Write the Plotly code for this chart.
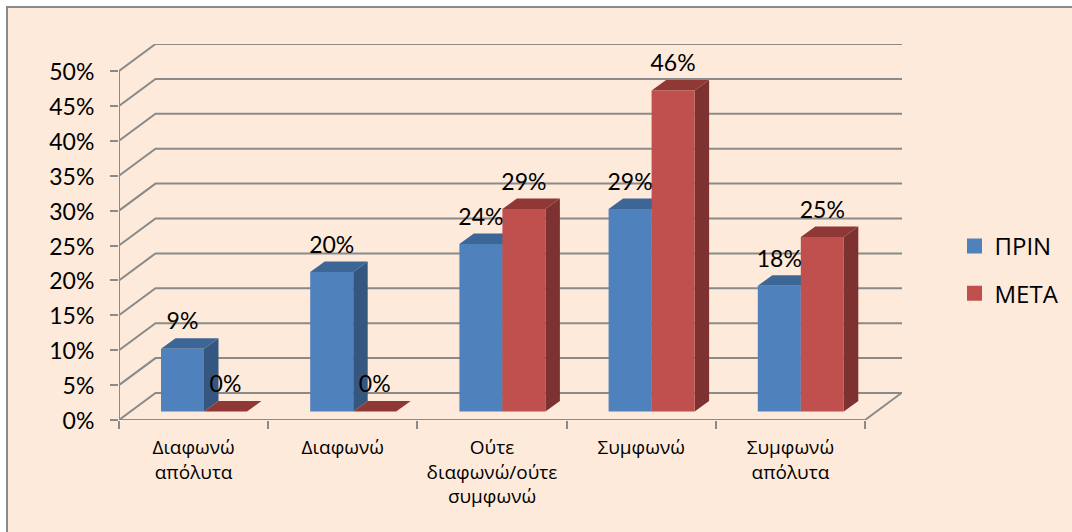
import plotly.graph_objects as go

categories = ["Διαφωνώ<br>απόλυτα", "Διαφωνώ", "Ούτε<br>διαφωνώ/ούτε<br>συμφωνώ", "Συμφωνώ", "Συμφωνώ<br>απόλυτα"]
before = [9, 20, 24, 29, 18]
after = [0, 0, 29, 46, 25]
y_ticks = [0, 5, 10, 15, 20, 25, 30, 35, 40, 45, 50]
series_names = ["ΠΡΙΝ", "ΜΕΤΑ"]

W, H = 1072, 532
PX_L, PX_R, PX_T, PX_B = 119, 902, 44, 420
PX_PER_CAT = 149.2
PX_PER_PCT = 6.98
FONT = "Open Sans"
NUM_FONT = "Lato"
BG = "#FDEADA"
GRID = "#8A8A8A"

def ux(px):
    return px / PX_PER_CAT

def uy(px):
    return px / PX_PER_PCT

DX, DY = ux(36.5), uy(27)          # wall depth
FX, FY = ux(42), uy(8.5)           # where bars stand on the floor
BW = ux(43)                        # bar width
SX, SY = ux(14.5), uy(10.5)        # bar depth
X_MAX = (PX_R - PX_L) / PX_PER_CAT
Y_MAX = (PX_B - PX_T) / PX_PER_PCT
N = len(categories)

fig = go.Figure()

def line(xs, ys, z=0):
    fig.add_trace(go.Scatter(x=xs, y=ys, mode="lines", line=dict(color=GRID, width=2),
                             showlegend=False, hoverinfo="skip", zorder=z))

for t in y_ticks:
    line([0, DX, X_MAX], [t, t + DY, t + DY])
line([0, 0], [0, y_ticks[-1]])
line([0, N, N + DX], [0, 0, DY])

def poly(xs, ys, color, z):
    fig.add_trace(go.Scatter(x=xs, y=ys, mode="lines", fill="toself", fillcolor=color,
                             line=dict(width=0, color=color), showlegend=False,
                             hoverinfo="skip", zorder=z))

series = [
    (before, 0, "#4F81BD", "#35577F", "#3C6696", 1),
    (after, 1, "#C0504D", "#7D3130", "#8F3836", 3),
]
for vals, k, front, side, top, z in series:
    lefts = [i + FX + k * BW for i in range(N)]
    for left, v in zip(lefts, vals):
        x0, x1, y0, y1 = left, left + BW, FY, FY + v
        if v > 0:
            poly([x1, x1 + SX, x1 + SX, x1, x1], [y0, y0 + SY, y1 + SY, y1, y0], side, z)
        poly([x0, x0 + SX, x1 + SX, x1, x0], [y1, y1 + SY, y1 + SY, y1, y1], top, z)
    fig.add_trace(go.Bar(x=[l + BW / 2 for l in lefts], y=vals, base=FY, width=BW,
                         marker=dict(color=front, line=dict(width=0)),
                         name=series_names[k], showlegend=False, zorder=z + 1))

for vals, k in ((before, 0), (after, 1)):
    fig.add_trace(go.Scatter(x=[i + FX + k * BW + BW / 2 for i in range(N)],
                             y=[v + FY + uy(25) for v in vals],
                             mode="text", text=[f"{v}%" for v in vals],
                             textposition="middle center",
                             textfont=dict(family=NUM_FONT, size=23, color="#000000"),
                             showlegend=False, hoverinfo="skip", zorder=10))

for name, color in zip(series_names, ("#4F81BD", "#C0504D")):
    fig.add_trace(go.Scatter(x=[None], y=[None], mode="markers", name=name, legendgroup=name,
                             marker=dict(symbol="square", size=15, color=color)))

fig.update_layout(
    width=W, height=H, autosize=False,
    margin=dict(l=PX_L, r=W - PX_R, t=PX_T, b=H - PX_B, pad=0),
    paper_bgcolor="#FFFFFF", plot_bgcolor="rgba(0,0,0,0)",
    barmode="overlay",
    font=dict(family=FONT, color="#000000"),
    xaxis=dict(range=[0, X_MAX], tickmode="array", tickvals=[i + 0.5 for i in range(N)],
               ticktext=categories, ticks="", showline=False, showgrid=False, zeroline=False,
               tickfont=dict(family=FONT, size=19), ticklabelstandoff=14,
               minor=dict(tickmode="array", tickvals=list(range(N + 1)), ticks="outside",
                          ticklen=8, tickcolor=GRID, tickwidth=2, showgrid=False)),
    yaxis=dict(range=[0, Y_MAX], tickmode="array", tickvals=y_ticks,
               ticktext=[f"{t}%" for t in y_ticks], ticks="outside", ticklen=8,
               tickcolor=GRID, tickwidth=2, showline=False, showgrid=False, zeroline=False,
               tickfont=dict(family=NUM_FONT, size=23), ticklabelstandoff=11,
               ticklabelshift=1),
    legend=dict(x=954.5 / W, y=1 - 224 / H, xref="container", yref="container",
                xanchor="left", yanchor="top",
                font=dict(family=FONT, size=24), tracegroupgap=13, bgcolor="rgba(0,0,0,0)",
                itemsizing="trace", itemwidth=30),
    shapes=[dict(type="rect", xref="paper", yref="paper", layer="below",
                 x0=(7 - PX_L) / (PX_R - PX_L), x1=(W + 20 - PX_L) / (PX_R - PX_L),
                 y0=(PX_B - H - 20) / (PX_B - PX_T), y1=(PX_B - 7) / (PX_B - PX_T),
                 fillcolor=BG, line=dict(color=GRID, width=2))],
)

fig.write_html("out.html", config={"displayModeBar": False},
               post_script="document.body.style.margin='0';")
